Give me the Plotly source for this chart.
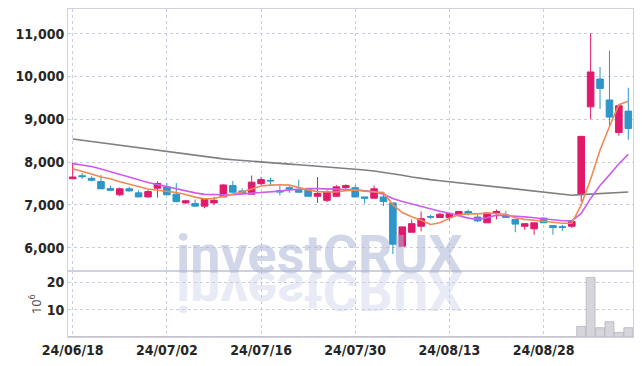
import plotly.graph_objects as go
from plotly.subplots import make_subplots

dates = [
    "2024-06-18", "2024-06-19", "2024-06-20", "2024-06-21", "2024-06-24", "2024-06-25", "2024-06-26", "2024-06-27", "2024-06-28",
    "2024-07-01", "2024-07-02", "2024-07-03", "2024-07-04", "2024-07-05", "2024-07-08", "2024-07-09", "2024-07-10", "2024-07-11",
    "2024-07-12", "2024-07-15", "2024-07-16", "2024-07-17", "2024-07-18", "2024-07-19", "2024-07-22", "2024-07-23", "2024-07-24",
    "2024-07-25", "2024-07-26", "2024-07-29", "2024-07-30", "2024-07-31", "2024-08-01", "2024-08-02", "2024-08-05", "2024-08-06",
    "2024-08-07", "2024-08-08", "2024-08-09", "2024-08-12", "2024-08-13", "2024-08-14", "2024-08-16", "2024-08-19", "2024-08-20",
    "2024-08-21", "2024-08-22", "2024-08-23", "2024-08-26", "2024-08-27", "2024-08-28", "2024-08-29", "2024-08-30", "2024-09-02",
    "2024-09-03", "2024-09-04", "2024-09-05", "2024-09-06", "2024-09-09", "2024-09-10",
]

opens = [7610, 7680, 7620, 7545, 7380, 7235, 7375, 7280, 7185, 7390,
         7420, 7250, 7045, 7030, 6970, 7045, 7185, 7450, 7325, 7250,
         7495, 7570, 7330, 7400, 7340, 7355, 7200, 7105, 7200, 7405,
         7400, 7185, 7155, 7185, 7045, 6035, 6360, 6500, 6725, 6705,
         6705, 6765, 6845, 6715, 6580, 6810, 6765, 6655, 6500, 6440,
         6690, 6515, 6490, 6500, 7250, 9290, 9940, 9450, 8690, 9190]
highs = [7990, 7745, 7665, 7700, 7450, 7405, 7420, 7340, 7350, 7545,
         7510, 7510, 7120, 7125, 7155, 7190, 7480, 7560, 7390, 7685,
         7650, 7635, 7445, 7435, 7590, 7370, 7650, 7340, 7460, 7480,
         7460, 7185, 7450, 7280, 7045, 6485, 6660, 6845, 6765, 6815,
         6815, 6860, 6890, 6765, 6815, 6890, 6860, 6655, 6560, 6580,
         6700, 6515, 6535, 6610, 8600, 11010, 10220, 10600, 9315, 9735]
lows = [7600, 7605, 7545, 7370, 7325, 7200, 7310, 7185, 7170, 7170,
        7235, 7060, 7020, 6970, 6920, 7000, 7185, 7280, 7240, 7250,
        7465, 7435, 7220, 7280, 7280, 7200, 7045, 7060, 7200, 7365,
        7185, 7030, 7155, 6970, 5850, 6035, 6360, 6380, 6675, 6705,
        6630, 6765, 6750, 6600, 6580, 6660, 6705, 6360, 6415, 6300,
        6580, 6300, 6395, 6460, 7075, 9000, 9240, 8830, 8615, 8520]
closes = [7650, 7660, 7575, 7375, 7340, 7375, 7325, 7185, 7310, 7500,
          7235, 7075, 7095, 6970, 7140, 7105, 7465, 7295, 7280, 7530,
          7590, 7560, 7300, 7370, 7295, 7200, 7265, 7295, 7420, 7450,
          7185, 7155, 7375, 7075, 6080, 6485, 6560, 6675, 6715, 6780,
          6800, 6845, 6800, 6625, 6810, 6845, 6705, 6550, 6560, 6580,
          6580, 6470, 6475, 6610, 8600, 10105, 9720, 9050, 9315, 8785]

ma_short = [7845, 7790, 7720, 7650, 7610, 7540, 7480, 7420, 7370, 7340,
            7320, 7290, 7240, 7180, 7140, 7150, 7200, 7250, 7300, 7370,
            7440, 7460, 7470, 7460, 7400, 7350, 7310, 7300, 7300, 7330,
            7350, 7320, 7310, 7290, 7000, 6820, 6720, 6640, 6540, 6580,
            6690, 6770, 6790, 6790, 6810, 6800, 6780, 6700, 6660, 6640,
            6620, 6590, 6570, 6570, 7000, 7600, 8280, 8830, 9340, 9420]
ma_mid = [7963, 7935, 7895, 7840, 7780, 7720, 7655, 7585, 7520, 7470,
          7420, 7380, 7330, 7280, 7245, 7235, 7235, 7240, 7255, 7265,
          7275, 7290, 7320, 7350, 7370, 7380, 7378, 7373, 7370, 7362,
          7350, 7330, 7305, 7250, 7150, 7080, 7020, 6965, 6900, 6850,
          6805, 6750, 6690, 6660, 6700, 6760, 6750, 6735, 6720, 6700,
          6675, 6650, 6630, 6625, 6800, 7150, 7450, 7700, 7960, 8180]
ma_long = [8540, 8510, 8480, 8450, 8420, 8390, 8360, 8330, 8300, 8272,
           8245, 8215, 8185, 8155, 8125, 8095, 8075, 8055, 8035, 8017,
           8000, 7984, 7968, 7952, 7936, 7920, 7904, 7888, 7872, 7856,
           7840, 7815, 7790, 7760, 7725, 7690, 7650, 7615, 7590, 7565,
           7540, 7515, 7490, 7465, 7440, 7415, 7390, 7365, 7340, 7315,
           7290, 7265, 7240, 7225, 7240, 7250, 7262, 7275, 7287, 7300]

volume_m = [0.1, 0.08, 0.08, 0.1, 0.08, 0.08, 0.08, 0.08, 0.08, 0.1,
            0.1, 0.1, 0.08, 0.08, 0.08, 0.08, 0.1, 0.1, 0.08, 0.1,
            0.1, 0.08, 0.08, 0.08, 0.08, 0.08, 0.1, 0.08, 0.08, 0.08,
            0.08, 0.08, 0.08, 0.1, 0.15, 0.12, 0.1, 0.1, 0.08, 0.08,
            0.08, 0.08, 0.08, 0.08, 0.08, 0.08, 0.08, 0.08, 0.08, 0.08,
            0.08, 0.08, 0.08, 0.08, 3.9, 21.8, 3.4, 5.6, 1.7, 3.4]

tick_dates = dates[::10]
tick_labels = ["24/06/18", "24/07/02", "24/07/16", "24/07/30", "24/08/13", "24/08/28"]
price_ticks = [6000, 7000, 8000, 9000, 10000, 11000]
volume_ticks = [10, 20]

UP = "#e2196b"
DOWN = "#2e96c9"
GRID = "#c9cde0"
AXLINE = "#cfd2de"
TICKFONT = dict(family="DejaVu Sans Condensed, Roboto, sans-serif", size=14, color="#262626", weight="bold")

fig = make_subplots(rows=2, cols=1, shared_xaxes=True, vertical_spacing=0,
                    row_heights=[0.8, 0.2])

fig.add_trace(go.Candlestick(
    x=dates, open=opens, high=highs, low=lows, close=closes,
    increasing=dict(line=dict(color=UP, width=1), fillcolor=UP),
    decreasing=dict(line=dict(color=DOWN, width=1), fillcolor=DOWN),
    whiskerwidth=0, showlegend=False, hoverinfo="skip"), row=1, col=1)

fig.add_trace(go.Scatter(x=dates, y=ma_long, mode="lines",
                         line=dict(color="#7f7f7f", width=1.6), showlegend=False), row=1, col=1)
fig.add_trace(go.Scatter(x=dates, y=ma_mid, mode="lines",
                         line=dict(color="#cc5cf0", width=1.6), showlegend=False), row=1, col=1)
fig.add_trace(go.Scatter(x=dates, y=ma_short, mode="lines",
                         line=dict(color="#f08a52", width=1.6), showlegend=False), row=1, col=1)

fig.add_trace(go.Bar(x=dates, y=volume_m, marker=dict(color="#d5d5db", line=dict(color="#b4b4bc", width=0.8)),
                     showlegend=False), row=2, col=1)

axis_common = dict(showline=True, linecolor=AXLINE, linewidth=1, mirror=True,
                   showgrid=True, gridcolor=GRID, griddash="dot", gridwidth=1,
                   zeroline=False, ticks="", tickfont=TICKFONT, automargin=False)

fig.update_xaxes(type="category", range=[-0.5, len(dates) - 0.5],
                 tickmode="array", tickvals=tick_dates, ticktext=tick_labels,
                 rangeslider_visible=False, **axis_common)
fig.update_xaxes(showticklabels=False, row=1, col=1)
fig.update_yaxes(range=[5445, 11576], tickmode="array", tickvals=price_ticks,
                 tickformat=",", row=1, col=1, **axis_common)
fig.update_yaxes(range=[0, 24], tickmode="array", tickvals=volume_ticks,
                 row=2, col=1,
                 title=dict(text="10<sup>6</sup>", font=dict(family="Roboto, sans-serif", size=13, color="#555"), standoff=2),
                 **axis_common)

wm_font = dict(family="Roboto, sans-serif", size=54, weight="bold")
fig.add_annotation(text="investCRUX", xref="paper", yref="paper", x=0.446, y=0.150,
                   xanchor="center", yanchor="bottom", showarrow=False,
                   font=dict(color="rgba(172,180,214,0.55)", **wm_font))
fig.add_annotation(text="investCRUX", xref="paper", yref="paper", x=0.446, y=0.150,
                   xanchor="center", yanchor="bottom", showarrow=False,
                   font=dict(color="rgba(200,205,232,0.42)", **wm_font))

fig.update_layout(width=642, height=366, margin=dict(l=68, r=9, t=9, b=29),
                  paper_bgcolor="white", plot_bgcolor="white",
                  boxgap=0.3, boxgroupgap=0.0, bargap=0.06, hovermode=False)

post = """
document.body.style.margin = '0';
document.body.style.overflow = 'hidden';
var gd = document.getElementById('{plot_id}');
var anns = gd.querySelectorAll('g.annotation');
if (anns.length > 1) {
  var t = anns[1].querySelector('text.annotation-text');
  if (t) {
    var b = parseFloat(t.getAttribute('y')) || 0;
    var prev = t.getAttribute('transform') || '';
    t.setAttribute('transform', 'translate(0,' + (2*b) + ') scale(1,-1) ' + prev);
  }
}
"""
fig.write_html("out.html", post_script=post, config={"displayModeBar": False})
